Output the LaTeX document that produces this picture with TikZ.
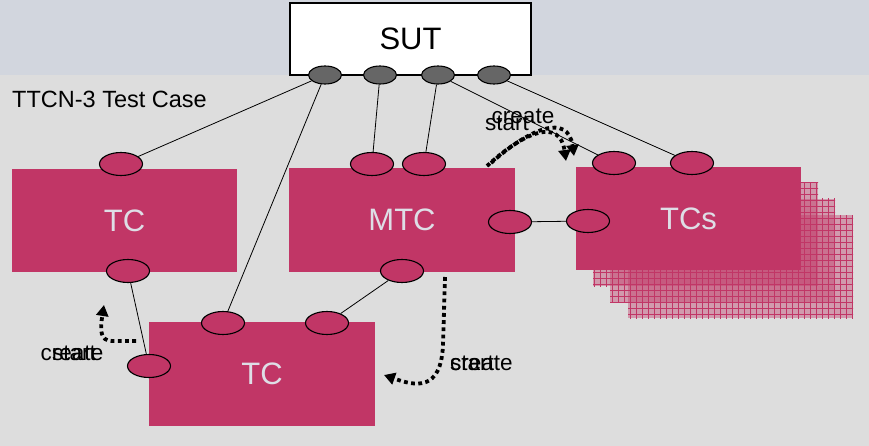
\documentclass[tikz,border=0pt]{standalone}
\usepackage{fontspec}
\setmainfont{Liberation Sans}
\usetikzlibrary{shapes.geometric,arrows.meta,patterns.meta}
\definecolor{crim}{RGB}{193,54,102}
\definecolor{topband}{RGB}{210,214,222}
\definecolor{lowband}{RGB}{221,221,221}
\definecolor{boxtext}{RGB}{222,222,230}
\definecolor{sutport}{RGB}{102,102,102}
\tikzset{
  compbox/.style={fill=crim, draw=none, text=boxtext, font=\fontsize{31}{31}\selectfont, inner sep=0pt},
  port/.style={ellipse, draw=black, line width=1.1pt, fill=crim, minimum width=43pt, minimum height=23pt, inner sep=0pt},
  sutp/.style={ellipse, draw=black, line width=1.1pt, fill=sutport, minimum width=33pt, minimum height=18pt, inner sep=0pt},
  wire/.style={draw=black, line width=0.8pt},
  dotarrow/.style={draw=black, line width=3.8pt, dash pattern=on 3.8pt off 3.4pt, -{Triangle[length=11pt,width=12pt]}},
  lbl/.style={font=\fontsize{22.5}{22.5}\selectfont, text=black, inner sep=0pt},
  backbox/.style={fill=crim, fill opacity=0.4, draw=none},
}
\begin{document}
\begin{tikzpicture}[x=1pt,y=-1pt]
\useasboundingbox (0,0) rectangle (869,446);
\fill[topband] (0,0) rectangle (869,75);
\fill[lowband] (0,75) rectangle (869,446);

% TCs stack (back boxes)
\foreach \dx/\dy in {52/48, 34/32, 17/16}{
  \fill[backbox] (576+\dx,167+\dy) rectangle (801+\dx,270+\dy);
  \fill[pattern={Lines[angle=0,distance=6pt,line width=0.5pt]}, pattern color=crim] (576+\dx,167+\dy) rectangle (801+\dx,270+\dy);
  \fill[pattern={Lines[angle=90,distance=6pt,line width=0.5pt]}, pattern color=crim] (576+\dx,167+\dy) rectangle (801+\dx,270+\dy);
}

% SUT
\node[draw=black, line width=1.1pt, fill=white, minimum width=241pt, minimum height=72pt, inner sep=0pt, font=\fontsize{31}{31}\selectfont] (sut) at (410.5,39) {SUT};

\node[anchor=west, font=\fontsize{23.5}{23.5}\selectfont, inner sep=0pt] (title) at (12,99) {TTCN-3 Test Case};

% component boxes
\node[compbox, minimum width=225pt, minimum height=103pt] (tcl) at (124.5,220.5) {TC};
\node[compbox, minimum width=226pt, minimum height=104pt] (mtc) at (402,220) {MTC};
\node[compbox, minimum width=225pt, minimum height=103pt] (tcs) at (688.5,218.5) {TCs};
\node[compbox, minimum width=226pt, minimum height=104pt] (tcb) at (262,374) {TC};

% SUT ports
\node[sutp] (s1) at (325,75) {};
\node[sutp] (s2) at (380,75) {};
\node[sutp] (s3) at (438,75) {};
\node[sutp] (s4) at (494,75) {};

% component ports
\node[port] (tclt) at (121,164) {};
\node[port] (tclb) at (128,271) {};
\node[port] (mt1) at (372,164) {};
\node[port] (mt2) at (424,164) {};
\node[port] (mr) at (510,222) {};
\node[port] (mb) at (402,271) {};
\node[port] (ct1) at (614,163) {};
\node[port] (ct2) at (692,163) {};
\node[port] (cl) at (588,221) {};
\node[port] (bt1) at (223,323) {};
\node[port] (bt2) at (327,323) {};
\node[port] (bl) at (149,366) {};

% wires
\draw[wire] (s1) -- (tclt);
\draw[wire] (s1) -- (bt1);
\draw[wire] (s2) -- (mt1);
\draw[wire] (s3) -- (mt2);
\draw[wire] (s3) -- (ct1);
\draw[wire] (s4) -- (ct2);
\draw[wire] (mr) -- (cl);
\draw[wire] (mb) -- (bt2);
\draw[wire] (tclb) -- (bl);

% dotted create/start arrows
\coordinate (a1s) at (487,166);
\coordinate (a1e) at (566,161);
\coordinate (a2s) at (491,163);
\coordinate (a2e) at (574,156);
\draw[dotarrow] (a1s) .. controls (525,131) and (560,118) .. (a1e);
\draw[dotarrow] (a2s) .. controls (530,128) and (568,113) .. (a2e);
\node[lbl] (c1) at (523,116) {create};
\node[lbl] (st1) at (507,123) {start};

\coordinate (b1s) at (136,341);
\coordinate (b1e) at (104,305);
\draw[dotarrow] (b1s) -- (112,341) .. controls (100,341) and (100,330) .. (b1e);
\node[lbl] (c2) at (72,353) {create};
\node[lbl] (st2) at (74,353) {start};

\coordinate (c1s) at (445,277);
\coordinate (c1e) at (384,375);
\draw[dotarrow] (c1s) -- (443,345) .. controls (441,392) and (415,386) .. (c1e);
\node[lbl, anchor=west] (c3) at (450,363) {create};
\node[lbl, anchor=west] (st3) at (450,363) {start};
\end{tikzpicture}
\end{document}
